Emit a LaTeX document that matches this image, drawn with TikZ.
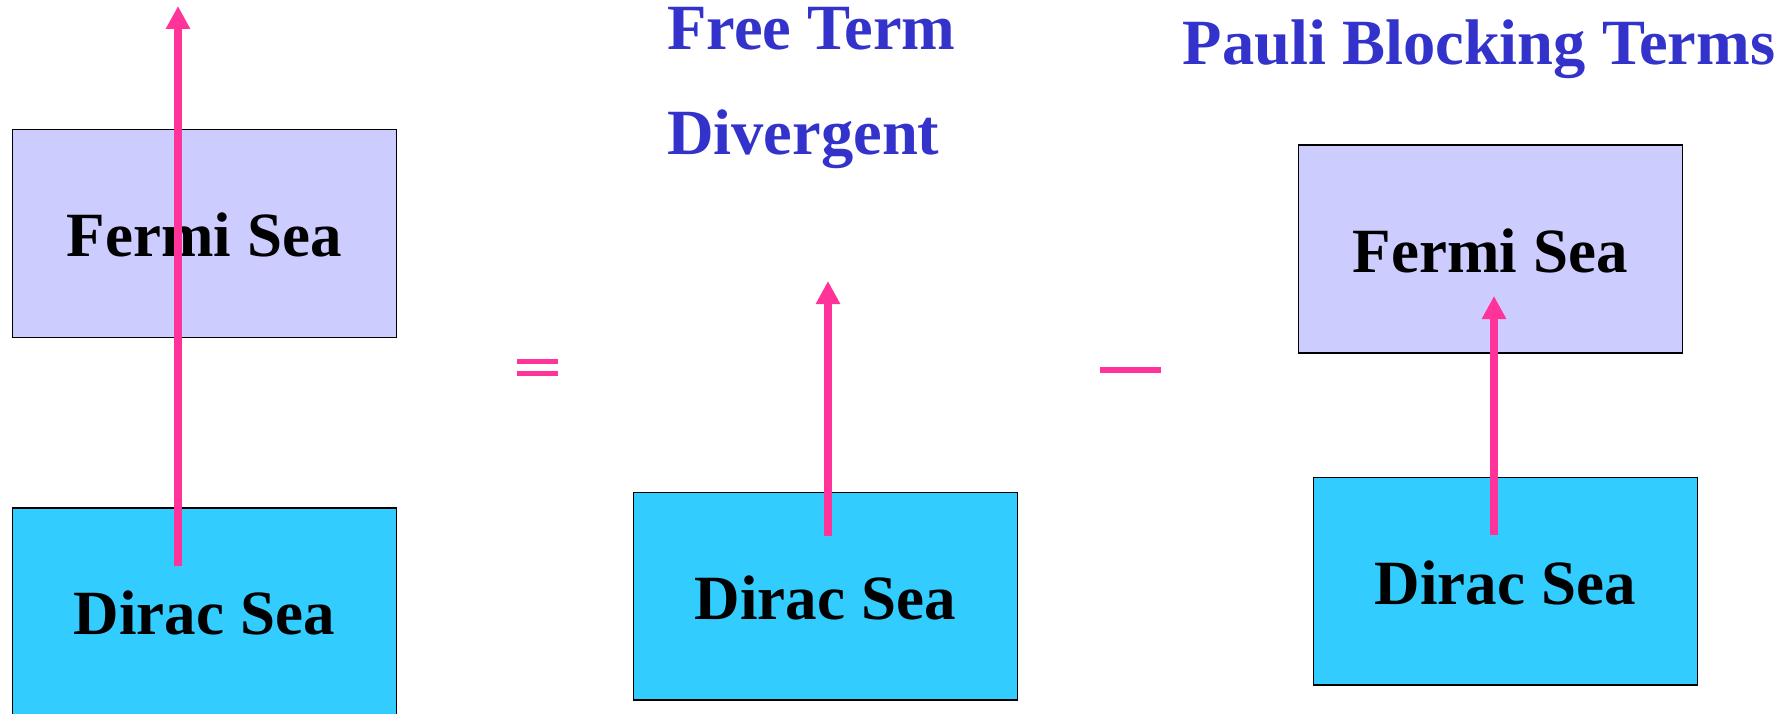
\documentclass[tikz,border=0pt]{standalone}
\usepackage{fontspec}
\setmainfont{Liberation Serif}
\usetikzlibrary{arrows.meta}
\definecolor{fermifill}{HTML}{CCCCFF}
\definecolor{diracfill}{HTML}{33CCFF}
\definecolor{hotpink}{HTML}{FF3399}
\definecolor{headblue}{HTML}{3333CC}
\begin{document}
\begin{tikzpicture}[x=1pt,y=-1pt,
  sea/.style={draw=black, line width=1.5pt, anchor=north west,
    minimum width=384pt, minimum height=207.5pt, inner sep=0pt,
    text height=46.5pt, text depth=0pt,
    font=\fontsize{63}{63}\selectfont\bfseries},
  fermisea/.style={sea, fill=fermifill},
  diracsea/.style={sea, fill=diracfill},
  heading/.style={anchor=base west, inner sep=0pt, text=headblue,
    font=\fontsize{64.5}{64.5}\selectfont\bfseries},
  transition/.style={draw=hotpink, line width=8pt,
    -{Triangle[length=23pt,width=23pt]}},
  opbar/.style={fill=hotpink}]
\useasboundingbox (0,0) rectangle (1785,714);

% left: full propagator
\node[fermisea] (fermiA) at (11.5,129) {Fermi Sea};
\node[diracsea] (diracA) at (11.5,507) {Dirac Sea};

% equals sign
\fill[opbar] (517.3,359.3) rectangle (557.7,363.8);
\fill[opbar] (517.3,371.2) rectangle (557.7,375.7);

% middle: free term
\node[heading] (freeterm) at (667,49.5) {Free Term};
\node[heading] (divergent) at (667,154.5) {Divergent};
\node[diracsea] (diracB) at (632.5,491.5) {Dirac Sea};

% minus sign
\fill[opbar] (1100.3,367.3) rectangle (1161.3,373.3);

% right: Pauli blocking terms
\node[heading] (pauli) at (1182.5,64.5) {Pauli Blocking Terms};
\node[fermisea] (fermiC) at (1297.5,144.5) {Fermi Sea};
\node[diracsea] (diracC) at (1312.5,476.5) {Dirac Sea};

% transition arrows
\coordinate (tailA) at (178,566);
\coordinate (tipA) at (178,6);
\coordinate (tailB) at (828,536);
\coordinate (tipB) at (828,281);
\coordinate (tailC) at (1494,535);
\coordinate (tipC) at (1494,296);
\draw[transition] (tailA) -- (tipA);
\draw[transition] (tailB) -- (tipB);
\draw[transition] (tailC) -- (tipC);
\end{tikzpicture}
\end{document}
